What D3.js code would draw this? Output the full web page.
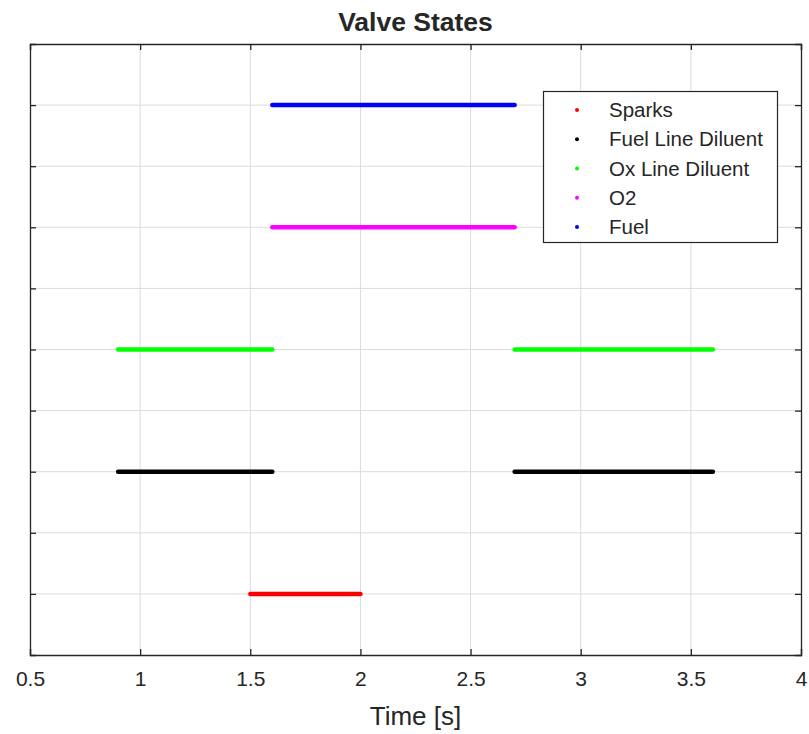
<!DOCTYPE html>
<html><head><meta charset="utf-8">
<script src="https://cdn.jsdelivr.net/npm/d3@7"></script>
<style>body{margin:0;background:#fff}svg{display:block}text{font-family:"Liberation Sans",Arial,sans-serif;fill:#262626}</style>
</head><body><svg id="c" width="809" height="734"></svg>
<script>
const seriesNames = ["Sparks", "Fuel Line Diluent", "Ox Line Diluent", "O2", "Fuel"];
const seriesColors = ["#ff0000", "#000000", "#00ff00", "#ff00ff", "#0000ff"];
const seriesLevels = [1, 3, 5, 7, 9];
const segStart = [[1.5], [0.9, 2.7], [0.9, 2.7], [1.6], [1.6]];
const segEnd   = [[2.0], [1.6, 3.6], [1.6, 3.6], [2.7], [2.7]];
const xTicks = [0.5, 1, 1.5, 2, 2.5, 3, 3.5, 4];
const yTicks = [1, 2, 3, 4, 5, 6, 7, 8, 9];

const svg = d3.select("#c");
const L = 30, R = 801, T = 44, B = 655;
const x = d3.scaleLinear().domain([0.5, 4]).range([L, R]);
const y = d3.scaleLinear().domain([0, 10]).range([B, T]);
const axisColor = "#262626";

// grid
const g = svg.append("g");
g.selectAll(".vg").data(xTicks.slice(1, -1)).join("line")
  .attr("x1", d => x(d)).attr("x2", d => x(d)).attr("y1", T).attr("y2", B)
  .attr("stroke", "#dcdcdc").attr("stroke-width", 1);
g.selectAll(".hg").data(yTicks).join("line")
  .attr("y1", d => y(d)).attr("y2", d => y(d)).attr("x1", L).attr("x2", R)
  .attr("stroke", "#dcdcdc").attr("stroke-width", 1);

// segments
const segs = [];
seriesNames.forEach((n, i) => segStart[i].forEach((s, j) => segs.push({s, e: segEnd[i][j], lv: seriesLevels[i], c: seriesColors[i]})));
svg.append("g").selectAll("line").data(segs).join("line")
  .attr("x1", d => x(d.s)).attr("x2", d => x(d.e))
  .attr("y1", d => y(d.lv)).attr("y2", d => y(d.lv))
  .attr("stroke", d => d.c).attr("stroke-width", 4.5).attr("stroke-linecap", "round");

// axes
const tl = 6;
const xb = svg.append("g").attr("transform", `translate(0,${B})`)
  .call(d3.axisBottom(x).tickValues(xTicks).tickSize(-tl).tickPadding(20).tickFormat(d3.format("")));
const xt = svg.append("g").attr("transform", `translate(0,${T})`)
  .call(d3.axisTop(x).tickValues(xTicks).tickSize(-tl).tickFormat(""));
const yl = svg.append("g").attr("transform", `translate(${L},0)`)
  .call(d3.axisLeft(y).tickValues(yTicks).tickSize(-tl).tickFormat(""));
const yr = svg.append("g").attr("transform", `translate(${R},0)`)
  .call(d3.axisRight(y).tickValues(yTicks).tickSize(-tl).tickFormat(""));
[xb, xt, yl, yr].forEach(a => {
  a.select(".domain").attr("stroke", axisColor).attr("stroke-width", 1.3);
  a.selectAll(".tick line").attr("stroke", axisColor).attr("stroke-width", 1.3);
  a.selectAll("text").attr("font-size", 21).attr("fill", axisColor)
   .style("font-family", '"Liberation Sans",Arial,sans-serif');
});
xb.selectAll(".tick text").attr("dy", "0.5em");

// title and label
svg.append("text").attr("x", (L + R) / 2).attr("y", 31).attr("text-anchor", "middle")
  .attr("font-size", 26.5).attr("font-weight", "bold").attr("fill", "#000").text("Valve States");
svg.append("text").attr("x", (L + R) / 2).attr("y", 725).attr("text-anchor", "middle")
  .attr("font-size", 26).text("Time [s]");

// legend
const lg = svg.append("g");
lg.append("rect").attr("x", 543.5).attr("y", 91.5).attr("width", 234).attr("height", 151)
  .attr("fill", "#fff").attr("stroke", axisColor).attr("stroke-width", 1.2);
const ly = d3.scalePoint().domain(seriesNames).range([110, 227]);
seriesNames.forEach((n, i) => {
  lg.append("circle").attr("cx", 577).attr("cy", ly(n)).attr("r", 2).attr("fill", seriesColors[i]);
  lg.append("text").attr("x", 609).attr("y", ly(n)).attr("dy", "0.35em").attr("font-size", 20.5).text(n);
});
</script></body></html>
